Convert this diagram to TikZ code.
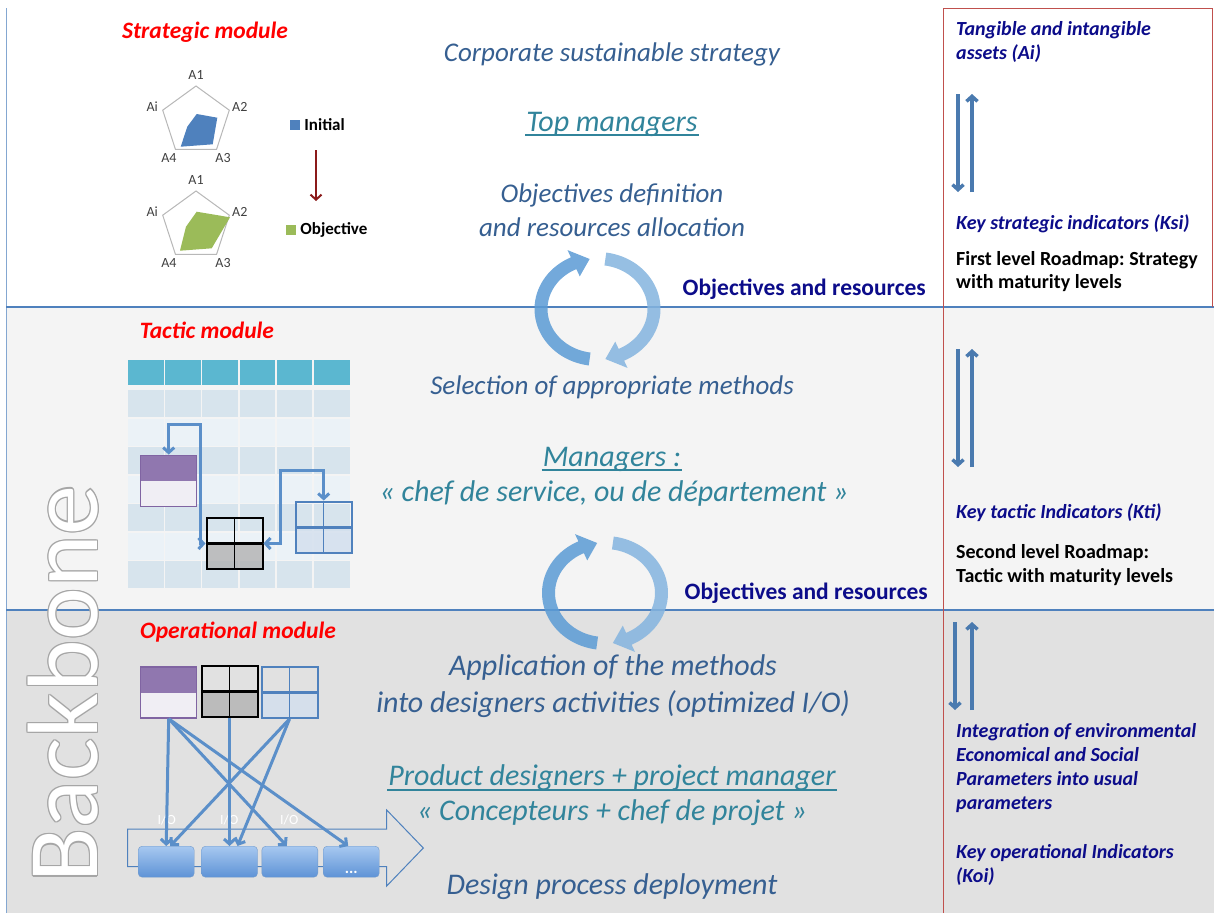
\documentclass[tikz,border=0pt]{standalone}
\usepackage{fontspec}
\setmainfont{Carlito}
\frenchspacing
\usetikzlibrary{arrows.meta, positioning, calc}
\definecolor{descblue}{HTML}{365F91}
\definecolor{roleteal}{HTML}{31849B}
\definecolor{navyink}{HTML}{0C0C8A}
\definecolor{modred}{HTML}{FF0000}
\definecolor{tacbg}{HTML}{F4F4F4}
\definecolor{opbg}{HTML}{E1E1E1}
\definecolor{sepblue}{HTML}{4F81BD}
\definecolor{colred}{HTML}{C0504D}
\definecolor{linkblue}{HTML}{5B8FC9}
\definecolor{sideblue}{HTML}{4A7AAF}
\definecolor{initblue}{HTML}{4F81BD}
\definecolor{objgreen}{HTML}{9BBB59}
\definecolor{evolred}{HTML}{8B1A1A}
\definecolor{hdrteal}{HTML}{5BB7D0}
\definecolor{rowdark}{HTML}{D7E4ED}
\definecolor{rowlight}{HTML}{EBF2F7}
\definecolor{purpfill}{HTML}{9077AF}
\definecolor{purpline}{HTML}{8064A2}
\definecolor{purplite}{HTML}{F0EEF4}
\definecolor{cycblue}{HTML}{5B9BD5}
\definecolor{boxtop}{HTML}{A7C8F0}
\definecolor{boxbot}{HTML}{5E93D6}

% block arrow bent on an ellipse: cx, cy, start angle, head angle, style
\newcommand{\cyclearrow}[5]{%
  \fill[#5] plot[domain=#3:#4, samples=40, variable=\t]
      ({#1+63*cos(\t)},{#2+57*sin(\t)})
    -- ({#1+71*cos(#4)},{#2+65*sin(#4)})
    -- ({#1+56.5*cos(#4+17)},{#2+50.5*sin(#4+17)})
    -- ({#1+42*cos(#4)},{#2+36*sin(#4)})
    -- plot[domain=#4:#3, samples=40, variable=\t]
      ({#1+50*cos(\t)},{#2+44*sin(\t)})
    -- cycle;}

\begin{document}
\begin{tikzpicture}[x=1pt, y=-1pt,
  >={Straight Barb[length=5pt, width=11pt]},
  midtext/.style={font=\fontsize{27}{34}\selectfont\itshape, text=descblue, align=center},
  bigmid/.style={midtext, font=\fontsize{30}{37}\selectfont\itshape},
  roletext/.style={font=\fontsize{30}{36}\selectfont\itshape, text=roleteal,
    align=center, inner sep=1pt},
  underl/.style={roleteal, line width=1.8pt},
  modtitle/.style={font=\fontsize{23.5}{27}\selectfont\bfseries\itshape, text=modred},
  sidenote/.style={font=\fontsize{20}{24}\selectfont\bfseries\itshape, text=navyink,
    align=left, anchor=west, inner sep=0pt},
  roadmap/.style={font=\fontsize{20}{23.5}\selectfont\bfseries, align=left,
    anchor=west, inner sep=0pt},
  flowlabel/.style={font=\fontsize{23.5}{26}\selectfont\bfseries, text=navyink,
    anchor=east, inner sep=0pt},
  axislabel/.style={font=\fontsize{14}{14}\selectfont, text=black!75},
  legsq/.style={minimum size=10pt, inner sep=0pt},
  legtext/.style={font=\fontsize{17}{17}\selectfont\bfseries, inner sep=0pt},
  radargrid/.style={draw=black!28, line width=1pt},
  evolarr/.style={->, evolred, line width=2pt},
  purplebox/.style={draw=purpline, line width=1.5pt, fill=purplite,
    minimum width=56pt, minimum height=51pt, inner sep=0pt,
    path picture={\fill[purpfill] (path picture bounding box.north west)
      rectangle (path picture bounding box.east);}},
  gridbox/.style 2 args={draw=#1, line width=2pt,
    minimum width=56pt, minimum height=51pt, inner sep=0pt,
    path picture={
      \fill[#2, fill opacity=0.8] (path picture bounding box.west)
        rectangle (path picture bounding box.south east);
      \draw[#1, line width=3pt] (path picture bounding box.west)
        -- (path picture bounding box.east);
      \draw[#1, line width=1.5pt] (path picture bounding box.north)
        -- (path picture bounding box.south);}},
  linkarr/.style={<->, linkblue, line width=3pt},
  feedarr/.style={->, linkblue, line width=3pt},
  vertarr/.style={->, sideblue, line width=3.5pt},
  procbox/.style={draw=sepblue!80, rounded corners=4pt, top color=boxtop,
    bottom color=boxbot, minimum width=56pt, minimum height=31pt},
  iolabel/.style={font=\fontsize{14}{14}\selectfont, text=white},
  backbone/.style={font=\fontsize{100}{100}\selectfont, rotate=90, inner sep=0pt},
  cycleft/.style={cycblue, fill opacity=0.85},
  cycright/.style={cycblue!75!white, fill opacity=0.85},
]
\useasboundingbox (0,0) rectangle (1214,913);

% ============================================================
% Bands
% ============================================================
\fill[white] (0,0) rectangle (1214,307);
\fill[tacbg] (6,307) rectangle (1214,610);
\fill[opbg] (6,610) rectangle (1214,913);
\draw[sepblue!70, line width=1pt] (6,8) -- (6,913);
\draw[sepblue, line width=2pt] (6,307) -- (1214,307);
\draw[sepblue, line width=2pt] (6,610) -- (1214,610);
\draw[colred, line width=0.8pt] (943,913) -- (943,8) -- (1212,8) -- (1212,307);

% ============================================================
% Backbone
% ============================================================
\coordinate (bb-c) at (63,684);
\foreach \dx/\dy in {1.2/0, -1.2/0, 0/1.2, 0/-1.2, 1/1, -1/1, 1/-1, -1/-1}
  \node[backbone, text=black!35] at ($(bb-c)+(\dx,\dy)$) {Backbone};
\node[backbone, text=white] (bb) at (bb-c) {Backbone};

% ============================================================
% Strategic module
% ============================================================
\node[modtitle] (strat-title) at (205,32) {Strategic module};

\coordinate (rad1) at (196,121);
\coordinate (rad2) at (196,226);
\foreach \rc in {rad1, rad2} {
  \draw[radargrid] ($(\rc)+(-90:35)$) -- ($(\rc)+(-18:35)$) -- ($(\rc)+(54:35)$)
    -- ($(\rc)+(126:35)$) -- ($(\rc)+(198:35)$) -- cycle;
  \foreach \ang/\lab in {-90/A1, -18/A2, 54/A3, 126/A4, 198/Ai}
    \node[axislabel] at ($(\rc)+(\ang:46)$) {\lab};
}
\fill[initblue] (196.7,114) -- (217.3,117.7) -- (212.7,144.3) -- (180.7,146.7)
  -- (187.3,126.7) -- cycle;
\fill[objgreen] (196.7,211.7) -- (230,217.3) -- (211.7,248.3) -- (180,250.7)
  -- (186,226.7) -- cycle;

\node[legsq, fill=initblue] (leg-init) at (295,125) {};
\node[legtext, right=4pt of leg-init] (leg-init-txt) {Initial};
\node[legsq, fill=objgreen] (leg-obj) at (291,230) {};
\node[legtext, right=4pt of leg-obj] (leg-obj-txt) {Objective};
\coordinate (evol-top) at (316,150);
\coordinate (evol-bot) at (316,201);
\draw[evolarr] (evol-top) -- (evol-bot);

% ============================================================
% Tactic module
% ============================================================
\node[modtitle] (tac-title) at (207,330) {Tactic module};

\foreach \c in {0,...,5} {
  \fill[hdrteal] ({128+37.2*\c},360) rectangle ++(35.6,25);
  \foreach \r/\rowcol in {0/rowdark, 1/rowlight, 2/rowdark, 3/rowlight,
                          4/rowdark, 5/rowlight, 6/rowdark}
    \fill[\rowcol] ({128+37.2*\c},{390+28.5*\r}) rectangle ++(35.6,27);
}

\node[purplebox] (tac-purple) at (168.7,480.8) {};
\node[gridbox={black}{black!30}] (tac-black) at (234.5,543.5) {};
\node[gridbox={sepblue}{sepblue!25}] (tac-blue) at (323.7,527) {};

\draw[linkarr] (tac-purple.north) -- ++(0,-30) -| ([xshift=-5pt]tac-black.west)
  -- (tac-black.west);
\draw[linkarr] (tac-black.east) -- ++(17,0) |- ($(tac-blue.north)+(0,-30)$)
  -- (tac-blue.north);

% ============================================================
% Operational module
% ============================================================
\node[modtitle] (op-title) at (238,632) {Operational module};

\node[purplebox] (op-purple) at (168.7,692.5) {};
\node[gridbox={black}{black!30}] (op-black) at (229.5,691.7) {};
\node[gridbox={sepblue}{sepblue!25}] (op-blue) at (289.5,692.5) {};

\draw[sepblue, line width=1pt] (127.7,829) -- (386.7,829) -- (386.7,810)
  -- (423.3,848) -- (386.7,886) -- (386.7,866.7) -- (127.7,866.7) -- cycle;

\foreach \i/\x in {1/166.2, 2/229.5, 3/289.8, 4/351.2}
  \node[procbox] (proc\i) at (\x,861.7) {};
\node[font=\fontsize{16}{16}\selectfont\bfseries, text=white, anchor=base]
  (proc-more) at ([yshift=4pt]proc4.south) {...};

\node[iolabel] (io1) at (166.7,820) {I/O};
\node[iolabel] (io2) at (229.3,820) {I/O};
\node[iolabel] (io3) at (289.3,820) {I/O};

\draw[feedarr] (op-purple.south) -- (proc1.north);
\draw[feedarr] (op-purple.south) -- ([xshift=-3pt]proc3.north);
\draw[feedarr] (op-purple.south) -- ([xshift=-3pt]proc4.north);
\draw[feedarr] (op-black.south) -- (proc2.north);
\draw[feedarr] (op-blue.south) -- ([xshift=4pt]proc1.north);
\draw[feedarr] (op-blue.south) -- ([xshift=8pt]proc2.north);

% ============================================================
% Centre column
% ============================================================
\node[midtext] (corp) at (612,54) {Corporate sustainable strategy};
\node[roletext] (top-mgr) at (612,124) {Top managers};
\draw[underl] ([yshift=-4pt]top-mgr.base west) -- ([yshift=-4pt]top-mgr.base east);
\node[midtext] (obj-def) at (612,210) {Objectives definition\\and resources allocation};

\node[midtext] (select) at (612,387) {Selection of appropriate methods};
\node[roletext] (mgr) at (612,459) {Managers :};
\draw[underl] ([yshift=-4pt]mgr.base west) -- ([yshift=-4pt]mgr.base east);
\node[roletext] (mgr-fr) at (614,493) {« chef de service, ou de département »};

\node[bigmid] (apply) at (613,686.5)
  {Application of the methods\\into designers activities (optimized I/O)};
\node[roletext] (designers) at (612,778) {Product designers + project manager};
\draw[underl] ([yshift=-4pt]designers.base west) -- ([yshift=-4pt]designers.base east);
\node[roletext] (designers-fr) at (612,813) {« Concepteurs + chef de projet »};
\node[bigmid] (deploy) at (612,887) {Design process deployment};

% cycles between levels
\cyclearrow{597.5}{309}{98}{245}{cycleft}
\cyclearrow{597.5}{309}{-82}{65}{cycright}
\cyclearrow{605}{593}{98}{245}{cycleft}
\cyclearrow{605}{593}{-82}{65}{cycright}

\node[flowlabel] (flow-top) at (926,289) {Objectives and resources};
\node[flowlabel] (flow-mid) at (928,593) {Objectives and resources};

% ============================================================
% Right column: indicators
% ============================================================
\node[sidenote] (assets) at (956,42) {Tangible and intangible\\assets (Ai)};
\coordinate (ksi-top) at (965,94);
\coordinate (ksi-bot) at (965,192);
\draw[vertarr] ([xshift=-7pt]ksi-top) -- ([xshift=-7pt]ksi-bot);
\draw[vertarr] ([xshift=7pt]ksi-bot) -- ([xshift=7pt]ksi-top);
\node[sidenote] (ksi) at (956,224) {Key strategic indicators (Ksi)};
\node[roadmap] (road1) at (956,271.5) {First level Roadmap: Strategy\\with maturity levels};

\coordinate (kti-top) at (965,349);
\coordinate (kti-bot) at (965,467);
\draw[vertarr] ([xshift=-7pt]kti-top) -- ([xshift=-7pt]kti-bot);
\draw[vertarr] ([xshift=7pt]kti-bot) -- ([xshift=7pt]kti-top);
\node[sidenote] (kti) at (956,513) {Key tactic Indicators (Kti)};
\node[roadmap] (road2) at (956,565) {Second level Roadmap:\\Tactic with maturity levels};

\coordinate (koi-top) at (964,622);
\coordinate (koi-bot) at (964,710);
\draw[vertarr] ([xshift=-9pt]koi-top) -- ([xshift=-9pt]koi-bot);
\draw[vertarr] ([xshift=8pt]koi-bot) -- ([xshift=8pt]koi-top);
\node[sidenote] (integr) at (956,768)
  {Integration of environmental\\Economical and Social\\Parameters into usual\\parameters};
\node[sidenote] (koi) at (956,865) {Key operational Indicators\\(Koi)};

\end{tikzpicture}
\end{document}
